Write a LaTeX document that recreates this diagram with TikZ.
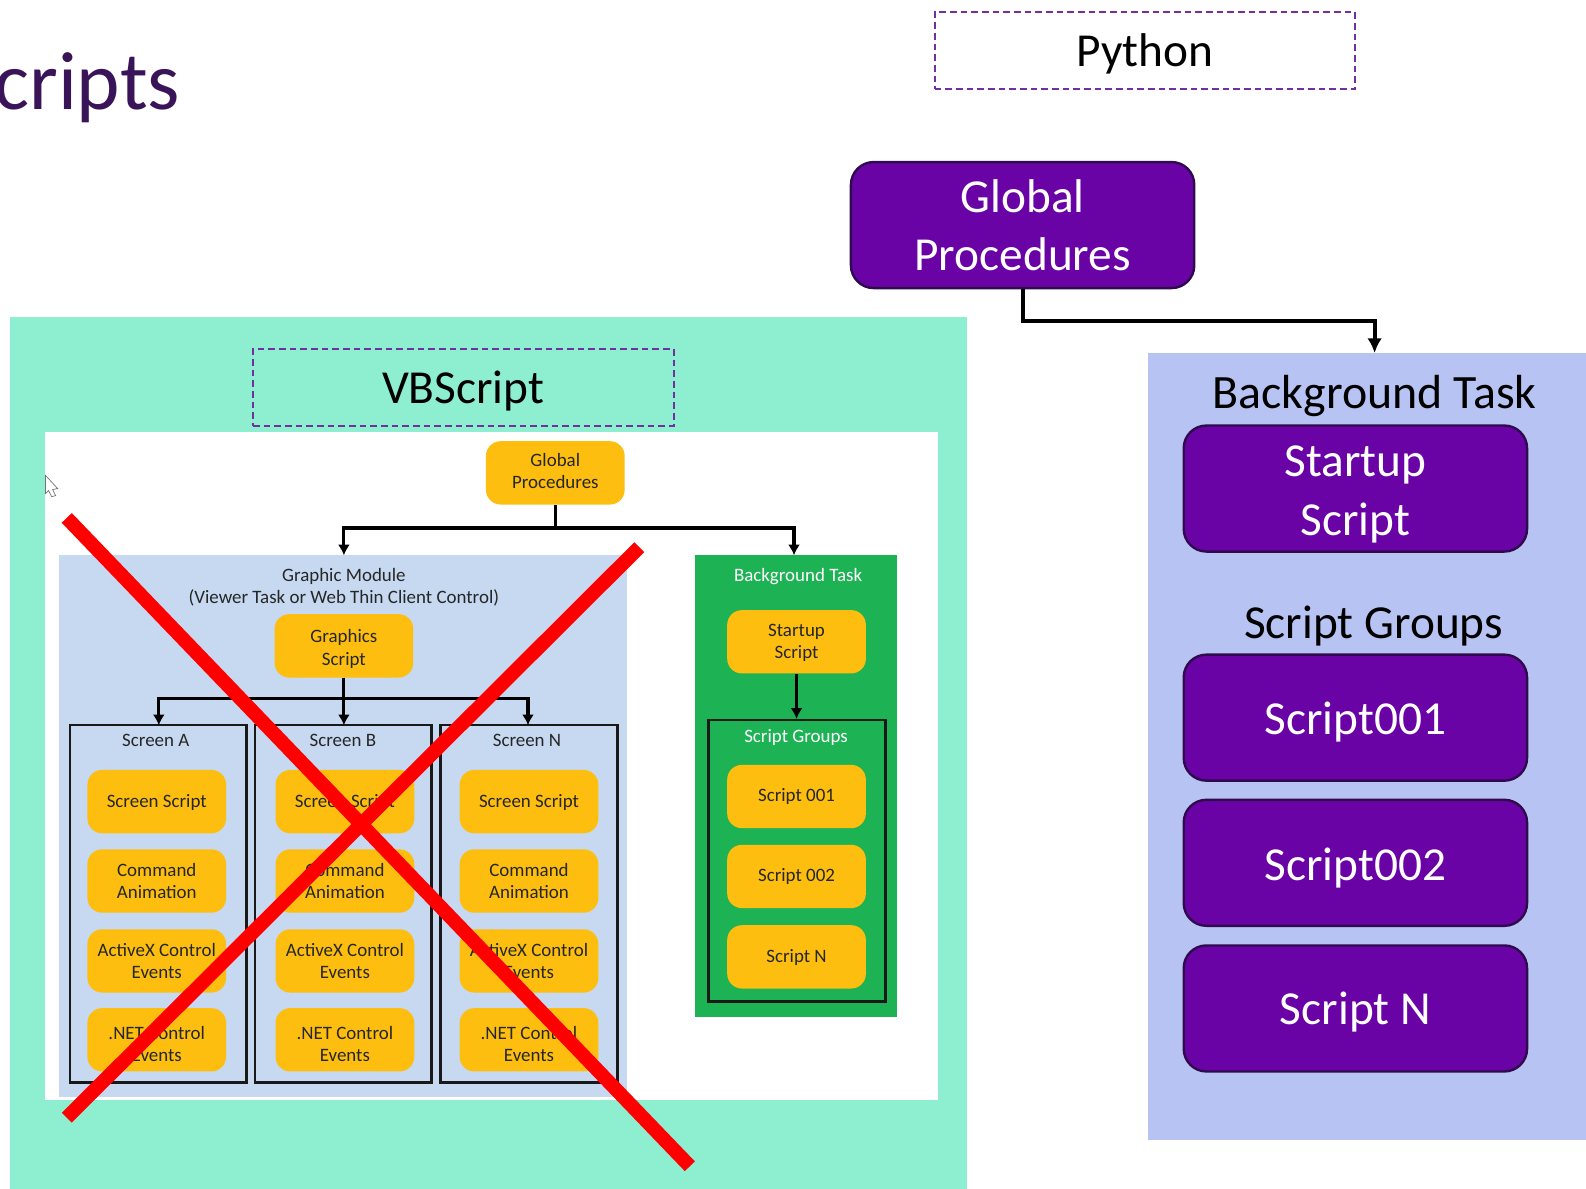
\documentclass[tikz,border=0pt]{standalone}
\usepackage{fontspec}
\setmainfont{Carlito}
\usetikzlibrary{arrows.meta,calc}
\definecolor{mint}{HTML}{8DEFCF}
\definecolor{periw}{HTML}{B7C3F2}
\definecolor{deeppurple}{HTML}{6A03A6}
\definecolor{edgepurple}{HTML}{2F0A4F}
\definecolor{dashpurple}{HTML}{7030A0}
\definecolor{amber}{HTML}{FDBE0F}
\definecolor{paleblue}{HTML}{C6D9F1}
\definecolor{leaf}{HTML}{1DB254}
\definecolor{titlepurple}{HTML}{3A1458}
\newcommand{\bigtxt}{\fontsize{35.5pt}{44pt}\selectfont}
\newcommand{\smalltxt}{\fontsize{14.2pt}{16.7pt}\selectfont}
\newcommand{\tb}[2]{\raisebox{#1}[\height][\depth]{\begin{tabular}{@{}c@{}}#2\end{tabular}}}
\tikzset{
  x=0.7586pt,y=-0.7586pt,
  purplebox/.style={draw=edgepurple,line width=1.8pt,fill=deeppurple,rounded corners=17pt,text=white,
    minimum width=257.5pt,minimum height=94.5pt,inner sep=0pt,align=center,font=\bigtxt},
  amberbox/.style={fill=amber,rounded corners=11pt,text=black!85,
    minimum width=104pt,minimum height=47.5pt,inner sep=0pt,align=center,font=\smalltxt},
  dashbox/.style={draw=dashpurple,line width=1.5pt,dash pattern=on 5pt off 3pt,
    minimum width=315.5pt,minimum height=57.5pt,inner sep=0pt,font=\bigtxt},
  screenbox/.style={draw=black!90,line width=1.9pt,minimum width=132.5pt,minimum height=268pt,inner sep=0pt},
  bigconn/.style={draw=black,line width=3pt},
  smallconn/.style={draw=black,line width=2.3pt},
  head/.style={-{Latex[length=11pt,width=11pt]}},
  smallhead/.style={-{Latex[length=8pt,width=9pt]}},
  plainlabel/.style={inner sep=0pt,align=center},
  cross/.style={draw=red,line width=10.5pt},
}
\begin{document}
\begin{tikzpicture}
\useasboundingbox (0,0) rectangle (1568,1175.5);
% panels
\fill[mint] (10,313.5) rectangle (956,1175.5);
\fill[periw] (1135,349) rectangle (1568,1127);
\fill[white] (44.5,427.5) rectangle (927,1087.5);
\fill[paleblue] (58,549) rectangle (620,1085);
\fill[leaf] (687,549) rectangle (887,1005);
% title
\node[anchor=base west,inner sep=0pt,text=titlepurple,font=\fontsize{62pt}{70pt}\selectfont] (title) at (-6,108) {cripts};
% dashed captions
\node[dashbox] (python) at (1132,50) {\tb{-3pt}{Python}};
\node[dashbox] (vbscript) at (458,383) {\tb{-3pt}{VBScript}};
% python side
\node[purplebox] (pyglobal) at (1011,222.5) {\tb{-3.5pt}{Global\\Procedures}};
\coordinate (pytop) at (1359,349);
\node[plainlabel,font=\fontsize{35.9pt}{44pt}\selectfont] (pybg) at (1359,391.5) {Background Task};
\node[purplebox] (pystart) at (1340,483) {\tb{-4.5pt}{Startup\\Script}};
\node[plainlabel,font=\bigtxt] (pygroups) at (1358,619) {Script Groups};
\node[purplebox] (py1) at (1340,709.5) {\tb{-3.7pt}{Script001}};
\node[purplebox] (py2) at (1340,853) {\tb{-4.3pt}{Script002}};
\node[purplebox] (py3) at (1340,997) {\tb{-3pt}{Script N}};
\coordinate (pyturn) at (1011,317);
\draw[bigconn,head] (pyglobal.south) -- (pyturn) -| (pytop);
% cursor
\draw[fill=white,draw=black!55,line width=0.5pt] (45,470) -- (57,483) -- (52,484) -- (55,490) -- (51,491) -- (48,485) -- (45,488) -- cycle;
% vbscript side
\node[amberbox] (vbglobal) at (549,467.5) {\tb{0pt}{Global\\Procedures}};
\node[plainlabel,font=\smalltxt,text=black!85] (gmlabel) at (340,580.5) {Graphic Module\\(Viewer Task or Web Thin Client Control)};
\coordinate (gmtop) at (340,549);
\coordinate (bgtop) at (785,549);
\coordinate (vbturn) at (549,522);
\draw[smallconn,smallhead] (vbglobal.south) -- (vbturn) -| (gmtop);
\draw[smallconn,smallhead] (vbturn) -| (bgtop);
\node[plainlabel,font=\smalltxt,text=white] (bglabel) at (789,570) {Background Task};
\node[amberbox] (graphics) at (340,638.5) {\tb{-2.7pt}{Graphics\\Script}};
% screens
\node[screenbox] (scra) at (156.5,893.5) {};
\node[screenbox] (scrb) at (339.5,893.5) {};
\node[screenbox] (scrn) at (523,893.5) {};
\coordinate (scraTop) at (157,717);
\coordinate (scrbTop) at (340,717);
\coordinate (scrnTop) at (522,717);
\coordinate (grturn) at (340,691);
\draw[smallconn,smallhead] (graphics.south) -- (scrbTop);
\draw[smallconn,smallhead] (grturn) -| (scraTop);
\draw[smallconn,smallhead] (grturn) -| (scrnTop);
\node[plainlabel,font=\smalltxt,text=black!85] (laba) at (154,732.5) {Screen A};
\node[plainlabel,font=\smalltxt,text=black!85] (labb) at (339,732.5) {Screen B};
\node[plainlabel,font=\smalltxt,text=black!85] (labn) at (521,732.5) {Screen N};
\node[amberbox] (a1) at (155,792.5) {\tb{-1.4pt}{Screen Script}};
\node[amberbox] (a2) at (155,871) {\tb{-1.5pt}{Command\\Animation}};
\node[amberbox] (a3) at (155,950) {\tb{-1.4pt}{ActiveX Control\\Events}};
\node[amberbox] (a4) at (155,1028) {\tb{-4.5pt}{.NET Control\\Events}};
\node[amberbox] (b1) at (341,792.5) {\tb{-1.4pt}{Screen Script}};
\node[amberbox] (b2) at (341,871) {\tb{-1.5pt}{Command\\Animation}};
\node[amberbox] (b3) at (341,950) {\tb{-1.4pt}{ActiveX Control\\Events}};
\node[amberbox] (b4) at (341,1028) {\tb{-4.5pt}{.NET Control\\Events}};
\node[amberbox] (n1) at (523,792.5) {\tb{-1.4pt}{Screen Script}};
\node[amberbox] (n2) at (523,871) {\tb{-1.5pt}{Command\\Animation}};
\node[amberbox] (n3) at (523,950) {\tb{-1.4pt}{ActiveX Control\\Events}};
\node[amberbox] (n4) at (523,1028) {\tb{-4.5pt}{.NET Control\\Events}};
% background task
\node[amberbox] (vbstart) at (787.5,634.5) {\tb{-0.8pt}{Startup\\Script}};
\node[draw=black!90,line width=1.9pt,minimum width=132.5pt,minimum height=211pt,inner sep=0pt] (groups) at (788,851) {};
\draw[smallconn,smallhead] (vbstart.south) -- (groups.north -| vbstart.south);
\node[plainlabel,font=\smalltxt,text=white] (groupslabel) at (787,729.5) {Script Groups};
\node[amberbox] (g1) at (787.5,787.5) {\tb{-0.7pt}{Script 001}};
\node[amberbox] (g2) at (787.5,866.5) {\tb{-0.7pt}{Script 002}};
\node[amberbox] (g3) at (787.5,946) {\tb{-0.7pt}{Script N}};
% red cross
\coordinate (xa) at (66,512);
\coordinate (xb) at (682,1153);
\coordinate (xc) at (632,541);
\coordinate (xd) at (66,1105);
\draw[cross] (xa) -- (xb);
\draw[cross] (xc) -- (xd);
\end{tikzpicture}
\end{document}
